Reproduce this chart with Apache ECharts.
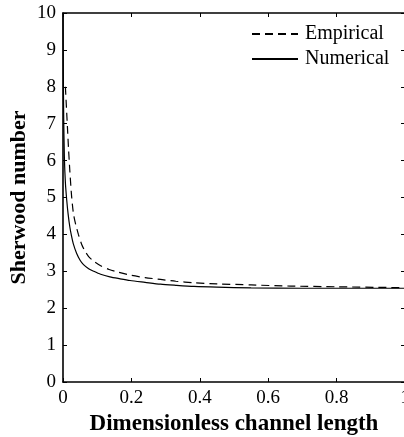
<!DOCTYPE html>
<html>
<head>
<meta charset="utf-8">
<script src="https://cdn.jsdelivr.net/npm/echarts@6/dist/echarts.min.js"></script>
<style>
html,body{margin:0;padding:0;background:#fff;}
#chart{width:404px;height:437px;}
</style>
</head>
<body>
<div id="chart"></div>
<script>
// Numerical (solid)
var numX = [0, 0.001, 0.002, 0.004, 0.007, 0.011, 0.015, 0.02, 0.025, 0.03, 0.04, 0.05, 0.06, 0.075, 0.09, 0.11, 0.137, 0.165, 0.196, 0.24, 0.285, 0.33, 0.383, 0.45, 0.55, 0.7, 0.85, 1.0];
var numY = [10, 8.3, 7.2, 6.1, 5.4, 4.92, 4.55, 4.2, 3.95, 3.75, 3.48, 3.3, 3.18, 3.07, 3.0, 2.92, 2.85, 2.8, 2.75, 2.7, 2.65, 2.62, 2.59, 2.57, 2.55, 2.54, 2.54, 2.54];
// Empirical (dashed)
var empX = [0.007, 0.01, 0.013, 0.016, 0.02, 0.025, 0.03, 0.035, 0.045, 0.055, 0.064, 0.075, 0.09, 0.11, 0.135, 0.16, 0.2, 0.24, 0.285, 0.33, 0.383, 0.45, 0.55, 0.666, 0.8, 0.96, 1.0];
var empY = [8.0, 7.45, 6.9, 6.35, 5.72, 5.05, 4.6, 4.35, 4.0, 3.72, 3.55, 3.4, 3.27, 3.15, 3.05, 2.98, 2.89, 2.83, 2.78, 2.73, 2.69, 2.66, 2.63, 2.6, 2.58, 2.56, 2.555];
var seriesNames = ['Empirical', 'Numerical'];
var xTitle = 'Dimensionless channel length';
var yTitle = 'Sherwood number';

function pairs(xs, ys){ return xs.map(function(x,i){ return [x, ys[i]]; }); }

var font = 'Liberation Serif';
var chart = echarts.init(document.getElementById('chart'), null, {renderer:'canvas'});
var axisLineStyle = {color:'#000', width:1.6};
chart.setOption({
  animation:false,
  backgroundColor:'#fff',
  grid:{left:63, right:-1, top:13, bottom:55, containLabel:false, outerBoundsMode:'none'},
  legend:{
    data:seriesNames,
    orient:'vertical',
    left:251, top:24, padding:0,
    itemWidth:46, itemHeight:10, itemGap:5,
    itemStyle:{opacity:0},
    textStyle:{fontFamily:font, fontSize:20, color:'#000', padding:[0,0,0,2]},
    backgroundColor:'transparent'
  },
  xAxis:[{
    type:'value', min:0, max:1, interval:0.2,
    name:xTitle, nameLocation:'middle', nameGap:31, nameMoveOverlap:false,
    nameTextStyle:{fontFamily:font, fontSize:23, fontWeight:'bold', color:'#000'},
    axisLine:{show:true, onZero:false, lineStyle:axisLineStyle},
    axisTick:{show:true, inside:true, length:4, lineStyle:{color:'#000', width:1}},
    axisLabel:{fontFamily:font, fontSize:19, color:'#000', margin:7, showMaxLabel:true, showMinLabel:true},
    splitLine:{show:false}
  },{
    type:'value', min:0, max:1, interval:0.2, position:'top',
    axisLine:{show:true, onZero:false, lineStyle:axisLineStyle},
    axisTick:{show:true, inside:true, length:4, lineStyle:{color:'#000', width:1}},
    axisLabel:{show:false}, splitLine:{show:false}
  }],
  yAxis:[{
    type:'value', min:0, max:10, interval:1,
    name:yTitle, nameLocation:'middle', nameGap:33, nameRotate:90, nameMoveOverlap:false,
    nameTextStyle:{fontFamily:font, fontSize:22, fontWeight:'bold', color:'#000'},
    axisLine:{show:true, onZero:false, lineStyle:axisLineStyle},
    axisTick:{show:true, inside:true, length:4, lineStyle:{color:'#000', width:1}},
    axisLabel:{fontFamily:font, fontSize:19, color:'#000', margin:7},
    splitLine:{show:false}
  },{
    type:'value', min:0, max:10, interval:1, position:'right',
    axisLine:{show:true, onZero:false, lineStyle:axisLineStyle},
    axisTick:{show:true, inside:true, length:4, lineStyle:{color:'#000', width:1}},
    axisLabel:{show:false}, splitLine:{show:false}
  }],
  series:[{
    name:seriesNames[0], type:'line', data:pairs(empX, empY),
    showSymbol:false, symbol:'none', smooth:0.25,
    lineStyle:{color:'#000', width:1.2, type:[8,5]},
    itemStyle:{color:'#000'}
  },{
    name:seriesNames[1], type:'line', data:pairs(numX, numY),
    showSymbol:false, symbol:'none', smooth:0.25,
    lineStyle:{color:'#000', width:1.2, type:'solid'},
    itemStyle:{color:'#000'}
  }]
});
</script>
</body>
</html>
